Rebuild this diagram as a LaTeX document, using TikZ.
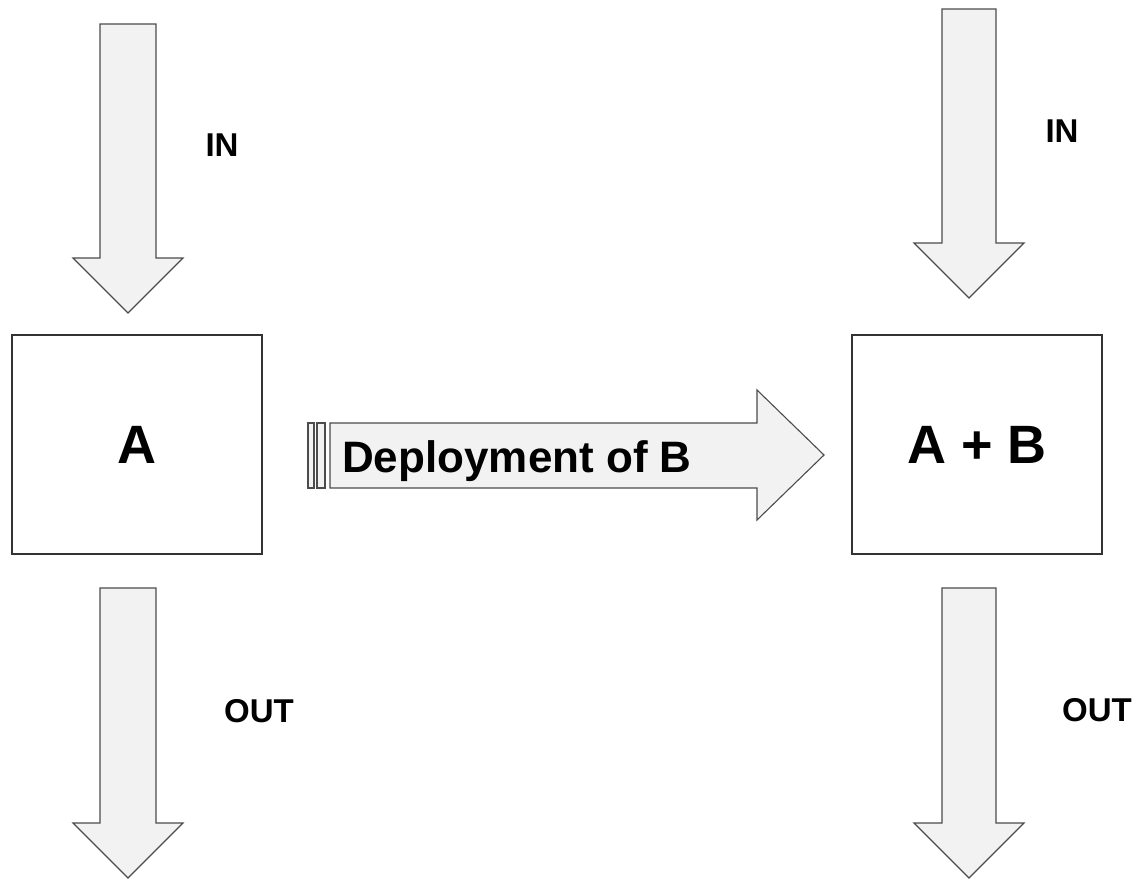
\documentclass[tikz,border=0pt]{standalone}
\usepackage{fontspec}
\setmainfont{Liberation Sans}
\usetikzlibrary{positioning}

\begin{document}
\begin{tikzpicture}[
                  x=1pt, y=-1pt,
                  stage/.style={draw=black!80, line width=1.1pt, inner sep=0pt,
                              minimum width=250pt, minimum height=219pt,
                              font=\bfseries\fontsize{54}{60}\selectfont},
                  flow/.style={draw=black!70, fill=black!5, line width=1.1pt,
                              line join=miter},
                  tag/.style={inner sep=0pt, font=\bfseries\fontsize{33}{38}\selectfont},
                  deploytext/.style={inner sep=0pt, anchor=base west,
                              font=\bfseries\fontsize{44}{50}\selectfont},
            ]
            \useasboundingbox (0,0) rectangle (1132,880);

            % the two systems
            \node[stage] (a)  at (137,444.5) {A};
            \node[stage] (ab) at (977,444.5) {A + B};

            % flows in and out of A
            \draw[flow] (100,24) -- (156,24) -- (156,258) -- (183,258) -- (128,313)
                  -- (73,258) -- (100,258) -- cycle;
            \draw[flow] (100,588) -- (156,588) -- (156,823) -- (183,823) -- (128,878)
                  -- (73,823) -- (100,823) -- cycle;

            % flows in and out of A + B
            \draw[flow] (942,9) -- (996,9) -- (996,243) -- (1024,243) -- (969,298)
                  -- (914,243) -- (942,243) -- cycle;
            \draw[flow] (942,588) -- (996,588) -- (996,823) -- (1024,823) -- (969,878)
                  -- (914,823) -- (942,823) -- cycle;

            % deployment arrow
            \draw[flow] (308,423) rectangle (314,488);
            \draw[flow] (317,423) rectangle (325,488);
            \draw[flow] (330,423) -- (757,423) -- (757,390) -- (824,455) -- (757,520)
                  -- (757,488) -- (330,488) -- cycle;
            \node[deploytext] (deploy) at (342,472) {Deployment of B};

            \node[tag] (ina)   at (222,145)  {IN};
            \node[tag] (outa)  at (259,711)  {OUT};
            \node[tag] (inab)  at (1062,131) {IN};
            \node[tag] (outab) at (1097,710) {OUT};
      \end{tikzpicture}
\end{document}
